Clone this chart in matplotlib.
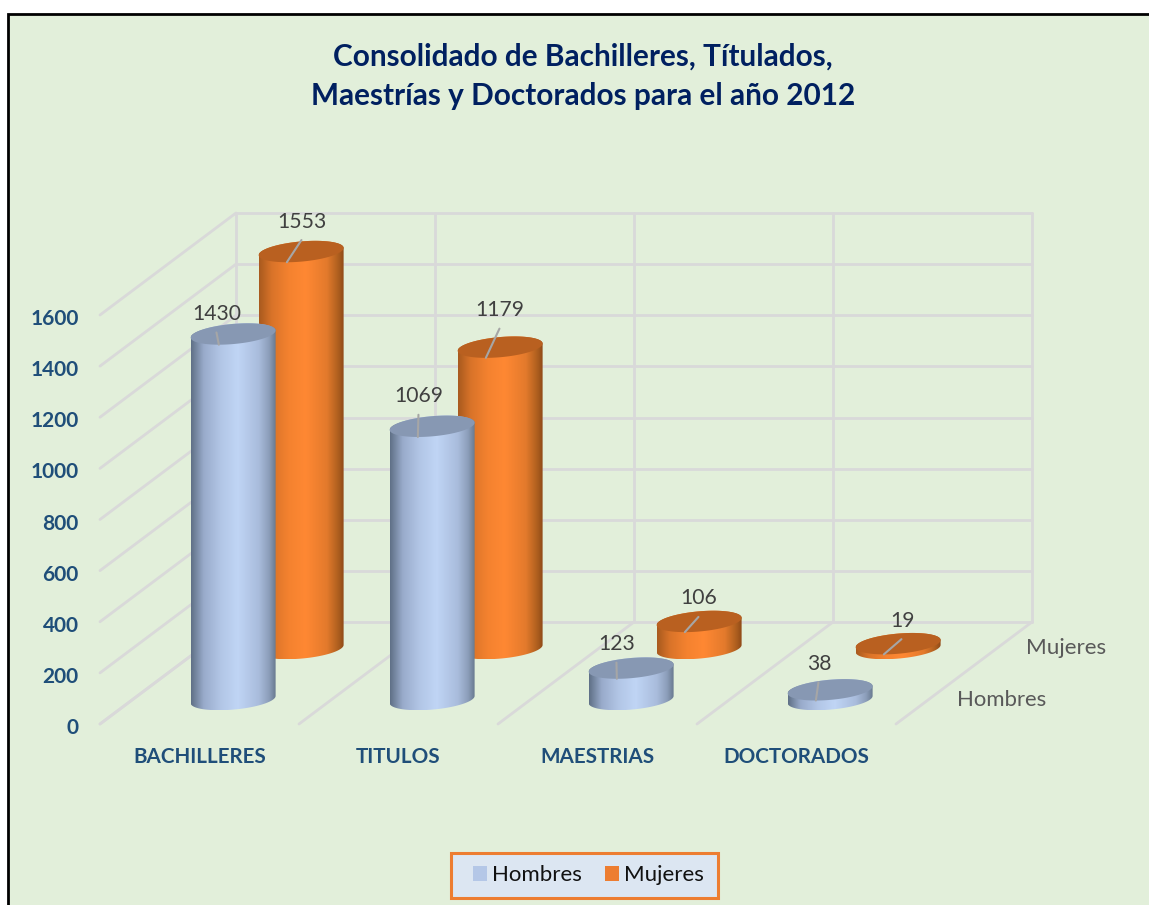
import numpy as np
import matplotlib
matplotlib.use("Agg")
import matplotlib.pyplot as plt
from matplotlib.patches import Polygon, Rectangle, Patch
from matplotlib.colors import LinearSegmentedColormap
from matplotlib.transforms import ScaledTranslation

# ---- data ----
categories = ["BACHILLERES", "TITULOS", "MAESTRIAS", "DOCTORADOS"]
hombres = [1430, 1069, 123, 38]
mujeres = [1553, 1179, 106, 19]
series_names = ["Hombres", "Mujeres"]
value_ticks = [0, 200, 400, 600, 800, 1000, 1200, 1400, 1600]
title_text = "Consolidado de Bachilleres, Títulados,\nMaestrías y Doctorados para el año 2012"

# ---- layout (pixels of the 1149x905 canvas) ----
W, H = 1149, 905
X0, Y0 = 100, 724         # front-left corner of floor
CAT_PX = 199
VAL_PX = 409 / 1600
DEPTH_PX = (136, 102)
X1, Y1 = 1032, 213
DX = DEPTH_PX[0] / CAT_PX
DY = DEPTH_PX[1] / VAL_PX
RAD_X = 40 / CAT_PX
RAD_D = 0.105
series_depth = [0.24, 0.74]
cat_shift = 0.505
label_off_h = [(-16, 20), (-13, 30), (-14, 24), (-11, 26)]
label_off_m = [(1, 30), (0, 37), (0, 23), (4, 23)]

BG = "#e2efda"
GRID = "#d9d9d9"
TXT = "#404040"
AXTXT = "#1f4e79"
FONT = "Lato"
plt.rcParams["font.family"] = [FONT, "DejaVu Sans"]

cm_h = LinearSegmentedColormap.from_list("h", [(0, "#5f7086"), (0.15, "#99abcb"), (0.35, "#b2c6e6"),
                                               (0.55, "#c0d5f5"), (0.8, "#a9bcdc"), (0.92, "#8c9eba"), (1, "#68798f")])
cm_m = LinearSegmentedColormap.from_list("m", [(0, "#a85a1e"), (0.15, "#d97329"), (0.35, "#f4822f"),
                                               (0.55, "#ff8833"), (0.8, "#e37a2c"), (0.93, "#b0601f"), (1, "#8f4a18")])
top_h, top_m = "#8798b3", "#b96020"

fig = plt.figure(figsize=(W / 100, H / 100), dpi=100, facecolor="white")
fig.add_artist(Rectangle((8 / W, -0.05), 1.1, 1 - 13.5 / H + 0.05, transform=fig.transFigure,
                         facecolor=BG, edgecolor="black", linewidth=2.0, zorder=-1))
ax = fig.add_axes([X0 / W, 1 - Y0 / H, (X1 - X0) / W, (Y0 - Y1) / H])
ax.patch.set_visible(False)
xmax = (X1 - X0) / CAT_PX
ymax = (Y0 - Y1) / VAL_PX
ax.set_xlim(0, xmax)
ax.set_ylim(0, ymax)
for s in ax.spines.values():
    s.set_visible(False)

# axis ticks and labels
ax.set_yticks(value_ticks)
ax.set_yticklabels([str(v) for v in value_ticks], fontsize=15, fontweight="bold", color=AXTXT)
ax.set_xticks(np.arange(len(categories)) + 0.5)
ax.set_xticklabels(categories, fontsize=14.9, fontweight="bold", color=AXTXT)
ax.tick_params(axis="y", length=0, pad=15.5)
ax.tick_params(axis="x", length=0, pad=16.3)
nudge = ScaledTranslation(0, -2 / 100, fig.dpi_scale_trans)
for t in ax.get_yticklabels():
    t.set_transform(t.get_transform() + nudge)

# walls and floor grid
gk = dict(color=GRID, lw=2.0, clip_on=False, zorder=1, solid_capstyle="round")
ncat = len(categories)
for v in value_ticks:
    ax.plot([0, DX], [v, v + DY], **gk)
    ax.plot([DX, DX + ncat], [v + DY, v + DY], **gk)
for c in range(ncat + 1):
    ax.plot([c, c + DX], [0, DY], **gk)
    ax.plot([c + DX, c + DX], [DY, value_ticks[-1] + DY], **gk)


def pt(c, v, t, d):
    return (c + d * DX + RAD_X * np.cos(t) + RAD_D * DX * np.sin(t),
            v + d * DY + RAD_D * DY * np.sin(t))


def cylinder(c, v, d, cmap, top, z):
    t0 = np.arctan2(RAD_D * DX * CAT_PX, RAD_X * CAT_PX)
    tb = np.linspace(t0 - np.pi, t0, 80)
    tt = np.linspace(t0, t0 + np.pi, 80)
    bx, by = pt(c, 0, tb, d)
    ux, uy = pt(c, v, tt, d)
    body = Polygon(np.c_[np.r_[bx, ux], np.r_[by, uy]], closed=True, transform=ax.transData,
                   facecolor="none", edgecolor="none")
    ax.add_patch(body)
    body.set_clip_on(False)
    im = ax.imshow(np.linspace(0, 1, 256)[None, :], cmap=cmap, aspect="auto",
                   extent=(bx.min(), bx.max(), by.min(), uy.max()), zorder=z, interpolation="bilinear")
    im.set_clip_path(body)
    ta = np.linspace(0, 2 * np.pi, 160)
    ex, ey = pt(c, v, ta, d)
    ax.add_patch(Polygon(np.c_[ex, ey], closed=True, facecolor=top, edgecolor="none", zorder=z + 0.1, clip_on=False))


def label(c, v, d, text, off, z):
    base = (c + (d - RAD_D) * DX, v + (d - RAD_D) * DY)
    cx, cy = c + d * DX, v + d * DY
    bx = (off[0] + 13.6, off[1] - 18 + 10.2)
    ax.annotate("", xy=base, xycoords="data", xytext=bx, textcoords="offset pixels",
                arrowprops=dict(arrowstyle="-", color="#a6a6a6", lw=1.5, shrinkA=0, shrinkB=0),
                zorder=z + 0.2, annotation_clip=False)
    ax.annotate(text, xy=(cx, cy), xycoords="data", xytext=off, textcoords="offset pixels",
                ha="center", va="center", fontsize=15.2, color=TXT, zorder=z + 0.3, annotation_clip=False)


for i in range(ncat):
    cc = i + cat_shift
    zm, zh = 3 + i, 3.5 + i
    cylinder(cc, mujeres[i], series_depth[1], cm_m, top_m, zm)
    label(cc, mujeres[i], series_depth[1], str(mujeres[i]), label_off_m[i], zm)
    cylinder(cc, hombres[i], series_depth[0], cm_h, top_h, zh)
    label(cc, hombres[i], series_depth[0], str(hombres[i]), label_off_h[i], zh)

ax.set_xlim(0, xmax)
ax.set_ylim(0, ymax)

# depth-axis labels
fig.text(1002 / W, 1 - 700 / H, series_names[0], ha="center", va="center", fontsize=15.9, color="#595959")
fig.text(1066 / W, 1 - 648 / H, series_names[1], ha="center", va="center", fontsize=16.2, color="#595959")

# title
fig.text(583 / W, 1 - 76 / H, title_text, ha="center", va="center", fontsize=21.4, fontweight="bold",
         color="#002060", linespacing=1.5)

# legend
fig.add_artist(Rectangle((450.5 / W, 1 - 898 / H), 267 / W, 45 / H, transform=fig.transFigure,
                         facecolor="#dce6f2", edgecolor="#ed7d31", linewidth=2.2, zorder=2))
leg = fig.legend(handles=[Patch(facecolor="#b4c7e7", label=series_names[0]),
                          Patch(facecolor="#ed7d31", label=series_names[1])],
                 ncol=2, loc="center", bbox_to_anchor=(588.5 / W, 1 - 875 / H), fontsize=16,
                 frameon=False, handlelength=0.64, handleheight=0.64, handletextpad=0.23,
                 columnspacing=1.05, borderpad=0, borderaxespad=0, labelcolor="#111111")
leg.set_zorder(3)
for h in leg.get_patches():
    h.set_linewidth(0)

fig.savefig("out.png", dpi=100)
